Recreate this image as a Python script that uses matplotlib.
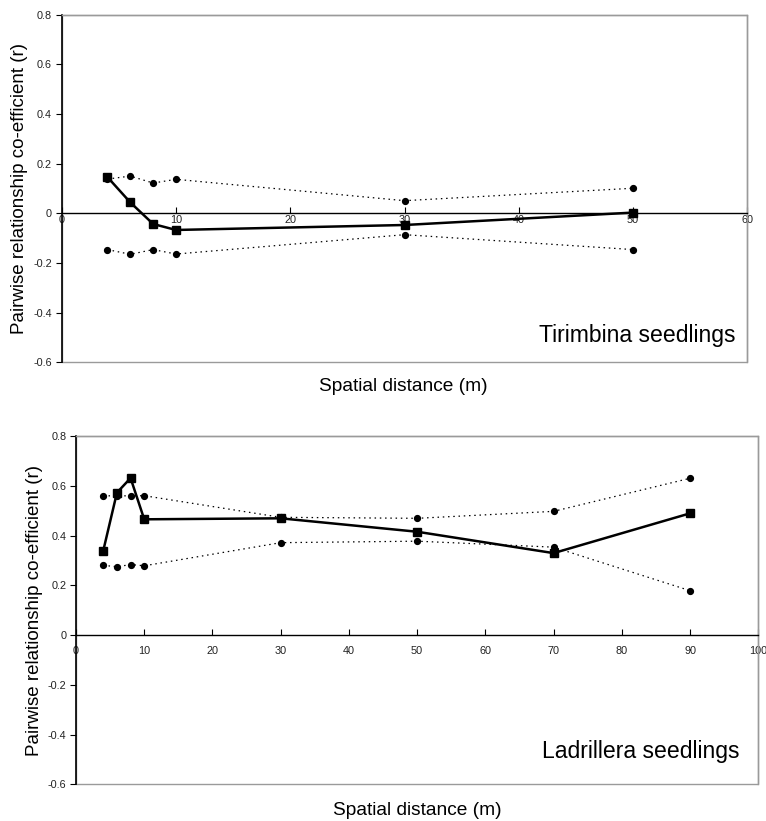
import numpy as np
import matplotlib
matplotlib.use('Agg')
import matplotlib.pyplot as plt
from matplotlib.patches import Rectangle

plt.rcParams['font.family'] = ['Liberation Sans', 'DejaVu Sans']

# Tirimbina: distance classes, observed r and the upper / lower 95% envelope
tir_x = [4, 6, 8, 10, 30, 50]
tir_r = [0.146, 0.044, -0.043, -0.067, -0.047, 0.003]
tir_hi = [0.138, 0.150, 0.122, 0.137, 0.051, 0.101]
tir_lo = [-0.146, -0.165, -0.146, -0.164, -0.086, -0.146]

# Ladrillera
lad_x = [4, 6, 8, 10, 30, 50, 70, 90]
lad_r = [0.340, 0.573, 0.632, 0.466, 0.470, 0.416, 0.330, 0.490]
lad_hi = [0.560, 0.561, 0.560, 0.561, 0.474, 0.470, 0.498, 0.631]
lad_lo = [0.281, 0.275, 0.284, 0.279, 0.372, 0.378, 0.354, 0.179]

y_ticks = [-0.6, -0.4, -0.2, 0, 0.2, 0.4, 0.6, 0.8]


def draw_panel(ax, x, r, hi, lo, xmax, name, name_pos, xpad):
    dot = (0, (1.2, 3.0))
    ax.plot(x, hi, color='black', lw=0.9, ls=dot, marker='o', ms=4.2, zorder=3)
    ax.plot(x, lo, color='black', lw=0.9, ls=dot, marker='o', ms=4.2, zorder=3)
    ax.plot(x, r, color='black', lw=1.8, marker='s', ms=5.8, zorder=4)

    ax.set_xlim(0, xmax)
    ax.set_ylim(-0.6, 0.8)
    ax.set_xticks(np.arange(0, xmax + 1, 10))
    ax.set_yticks(y_ticks)
    ax.set_yticklabels(['0' if v == 0 else '%.1f' % v for v in y_ticks])

    # x axis crosses at r = 0, plot area framed in grey
    ax.spines['bottom'].set_position(('data', 0))
    ax.spines['bottom'].set_color('black')
    ax.spines['bottom'].set_linewidth(1.0)
    ax.spines['left'].set_color('black')
    ax.spines['left'].set_linewidth(1.2)
    for s in ['top', 'right']:
        ax.spines[s].set_color('#9a9a9a')
        ax.spines[s].set_linewidth(1.0)
    ax.add_patch(Rectangle((0, 0), 1, 1, transform=ax.transAxes, fill=False,
                           edgecolor='#9a9a9a', lw=1.0, zorder=0, clip_on=False))

    ax.tick_params(axis='x', direction='in', length=4, width=0.8, pad=xpad,
                   labelsize=7.8, labelcolor='#222222')
    ax.tick_params(axis='y', direction='out', length=4, width=0.8, pad=3,
                   labelsize=7.8, labelcolor='#222222')

    ax.set_xlabel('Spatial distance (m)', fontsize=13.8)
    ax.set_ylabel('Pairwise relationship co-efficient (r)', fontsize=13.5)
    ax.text(name_pos[0], name_pos[1], name, transform=ax.transAxes,
            ha='right', va='baseline', fontsize=16.6)


fig = plt.figure(figsize=(7.66, 8.21), dpi=100)
ax1 = fig.add_axes([0.0806, 0.5587, 0.895, 0.4234])
ax2 = fig.add_axes([0.0992, 0.0447, 0.8907, 0.4239])

draw_panel(ax1, tir_x, tir_r, tir_hi, tir_lo, 60, 'Tirimbina seedlings', (0.9835, 0.059), 1)
draw_panel(ax2, lad_x, lad_r, lad_hi, lad_lo, 100, 'Ladrillera seedlings', (0.973, 0.075), 8)

ax1.yaxis.set_label_coords(-0.049, 0.5)
ax1.xaxis.set_label_coords(0.498, -0.045)
ax2.yaxis.set_label_coords(-0.048, 0.5)
ax2.xaxis.set_label_coords(0.5, -0.050)

fig.savefig('out.png', dpi=100, facecolor='white')
